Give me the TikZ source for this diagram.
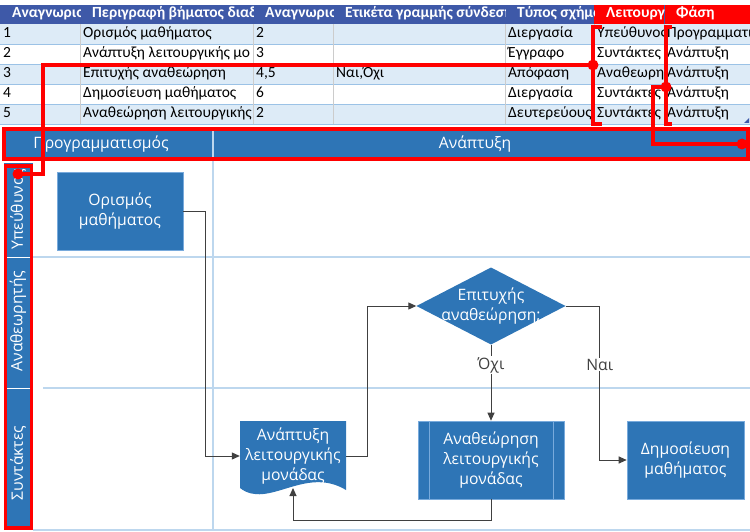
\documentclass[tikz,border=0pt]{standalone}
\usepackage{fontspec}
\setmainfont{Carlito}
\newfontfamily\diagfont{Open Sans}
\usepackage{xcolor}
\definecolor{headblue}{RGB}{62,89,168}
\definecolor{rowblue}{RGB}{221,235,247}
\definecolor{gridblue}{RGB}{155,194,230}
\definecolor{diagblue}{RGB}{46,117,182}
\definecolor{edgeblue}{RGB}{120,170,220}
\definecolor{lanegrid}{RGB}{189,215,238}
\definecolor{markred}{RGB}{255,0,0}
\definecolor{flowgray}{RGB}{64,64,64}
\usepackage{tikz}
\usetikzlibrary{calc}
\usetikzlibrary{arrows.meta}
\newcommand{\tablefont}{\fontsize{15.5}{17}\selectfont}
\newcommand{\diagtext}{\diagfont\fontsize{15.7}{19.8}\selectfont}
% one table cell, clipped to its column: row, column left, column width, text
\newcommand{\tcell}[4]{%
    \begin{scope}
        \clip (#2,{4+20*#1}) rectangle ++(#3,20);
        \node[cell] (t#1-#2) at (#2,{14+20*#1}) {#4};
    \end{scope}}
\newcommand{\trow}[8]{%
    \tcell{#1}{0}{80}{#2}\tcell{#1}{80}{173}{#3}\tcell{#1}{253}{80}{#4}%
    \tcell{#1}{333}{172}{#5}\tcell{#1}{505}{89}{#6}\tcell{#1}{594}{70}{#7}%
    \tcell{#1}{664}{86}{#8}}
\tikzset{
    cell/.style={anchor=west, inner sep=0pt, xshift=3pt, font=\tablefont, text height=10pt, text depth=3pt},
    headcell/.style={anchor=west, inner sep=0pt, xshift=12pt, text=white, font=\tablefont\bfseries, text height=10pt, text depth=3pt},
    block/.style={fill=diagblue, draw=edgeblue, line width=0.6pt, text=white, font=\diagtext, align=center, inner sep=0pt},
    process/.style={block, rectangle, minimum height=78pt},
    subprocess/.style={process,
        path picture={
            \draw[edgeblue, line width=0.8pt]
                ($(path picture bounding box.north west)!0.075!(path picture bounding box.north east)$) --
                ($(path picture bounding box.south west)!0.075!(path picture bounding box.south east)$)
                ($(path picture bounding box.north west)!0.93!(path picture bounding box.north east)$) --
                ($(path picture bounding box.south west)!0.93!(path picture bounding box.south east)$);
        }},
    decision/.style={text=white, font=\diagtext, align=center, inner sep=0pt,
        minimum width=149pt, minimum height=77pt,
        path picture={
            \fill[diagblue] (path picture bounding box.west) -- (path picture bounding box.north)
                -- (path picture bounding box.east) -- (path picture bounding box.south) -- cycle;
        }},
    lanelabel/.style={rotate=90, text=white, font=\diagtext},
    phaselabel/.style={text=white, font=\diagtext},
    flow/.style={draw=flowgray, line width=1pt, -{Triangle[length=8pt, width=7pt]}},
    edgelabel/.style={fill=white, text=flowgray, font=\diagtext, inner sep=1pt},
    redline/.style={draw=markred, line width=3.5pt},
    reddot/.style={insert path={ circle[radius=5.5pt] }}
}

\begin{document}
\begin{tikzpicture}[x=1pt, y=-1pt]
    \useasboundingbox (0,0) rectangle (750,532);

    % table
    \fill[headblue] (0,5) rectangle (594,24);
    \fill[markred] (594,5) rectangle (750,24);
    \draw[headblue] (664,5) -- (664,24);
    \foreach \r in {1,3,5}
        \fill[rowblue] (0,{4+20*\r}) rectangle ++(750,20);
    \foreach \r in {1,...,5}
        \draw[gridblue] (0,{24+20*\r}) -- ++(750,0);
    \foreach \x in {80,253,333,505,594,664}
        \draw[black!20] (\x,24) -- (\x,124);
    \fill[headblue] (749,118) -- (749,123) -- (744,123) -- cycle;

    \begin{scope}[cell/.style={headcell}]
        \trow{0}{Αναγνωριο}{Περιγραφή βήματος διαδ}{Αναγνωριο}{Ετικέτα γραμμής σύνδεση}{Τύπος σχήμα}{Λειτουργί}{Φάση}
    \end{scope}
    \trow{1}{1}{Ορισμός μαθήματος}{2}{}{Διεργασία}{Υπεύθυνος}{Προγραμματι}
    \trow{2}{2}{Ανάπτυξη λειτουργικής μο}{3}{}{Έγγραφο}{Συντάκτες}{Ανάπτυξη}
    \trow{3}{3}{Επιτυχής αναθεώρηση}{4,5}{Ναι,Όχι}{Απόφαση}{Αναθεωρη}{Ανάπτυξη}
    \trow{4}{4}{Δημοσίευση μαθήματος}{6}{}{Διεργασία}{Συντάκτες}{Ανάπτυξη}
    \trow{5}{5}{Αναθεώρηση λειτουργικής}{2}{}{Δευτερεύους}{Συντάκτες}{Ανάπτυξη}

    % phases and lanes
    \fill[diagblue] (3,130) rectangle (750,160);
    \draw[lanegrid, line width=1.2pt] (213,130) -- (213,530);
    \fill[diagblue] (4,163) rectangle (33,256.5);
    \fill[diagblue] (4,258) rectangle (33,387.5);
    \fill[diagblue] (4,389) rectangle (33,528);
    \draw[lanegrid, line width=1.5pt] (33,257) -- (750,257);
    \draw[lanegrid, line width=1.5pt] (43,388) -- (750,388);
    \draw[lanegrid, line width=1.5pt] (33,530) -- (750,530);

    \node[phaselabel] (planning) at (101,144) {Προγραμματισμός};
    \node[phaselabel] (building) at (475,144) {Ανάπτυξη};
    \node[lanelabel] (owner) at (18,209) {Υπεύθυνος};
    \node[lanelabel] (reviewer) at (18,321) {Αναθεωρητής};
    \node[lanelabel] (authors) at (18,463) {Συντάκτες};

    % shapes
    \node[process, minimum width=126pt] (define) at (120,211) {Ορισμός\\μαθήματος};
    \fill[diagblue] (240,421) -- (346,421) -- (346,490)
        .. controls (305,465) and (268,510) .. (240,488) -- cycle;
    \node[text=white, font=\diagtext, align=center, inner sep=0pt,
        minimum width=106pt, minimum height=68pt] (develop) at (293,456) {Ανάπτυξη\\λειτουργικής\\μονάδας};
    \coordinate (develop-in) at (293,488);
    \node[decision] (success) at (491,306) {Επιτυχής\\αναθεώρηση;};
    \node[subprocess, minimum width=146pt] (revise) at (491,460) {Αναθεώρηση\\λειτουργικής\\μονάδας};
    \node[process, minimum width=117pt] (publish) at (685.5,460) {Δημοσίευση\\μαθήματος};

    % connectors
    \draw[flow] (define.east) -- ++(22,0) |- (develop.west);
    \draw[flow] (develop.east) -- ++(21,0) |- (success.west);
    \draw[flow] (success.south) -- node[edgelabel, pos=0.27] {Όχι} (revise.north);
    \draw[flow] (success.east) -- ++(34,0) |- node[edgelabel, pos=0.19] {Ναι} (publish.west);
    \draw[flow] (revise.south) -- ++(0,21) -| (develop-in);

    % red marks
    \coordinate (lane-dot) at (18,174);
    \coordinate (function-dot) at (593,65);
    \coordinate (phase-dot) at (666,87);
    \coordinate (band-dot) at (742,144);
    \draw[redline] (5.5,166) rectangle (31.5,528);
    \draw[redline] (4,129) rectangle (748,159);
    \draw[redline] (602,27) -- (593,27) -- (593,124) -- (602,124);
    \draw[redline] (672,27) -- (666,27) -- (666,124) -- (672,124);
    \draw[redline] (lane-dot) -- ++(25,0) |- (function-dot);
    \draw[redline] (phase-dot) -- ++(-13,0) |- (band-dot);
    \fill[markred] (lane-dot) [reddot] (function-dot) [reddot] (phase-dot) [reddot] (band-dot) [reddot];
\end{tikzpicture}
\end{document}
